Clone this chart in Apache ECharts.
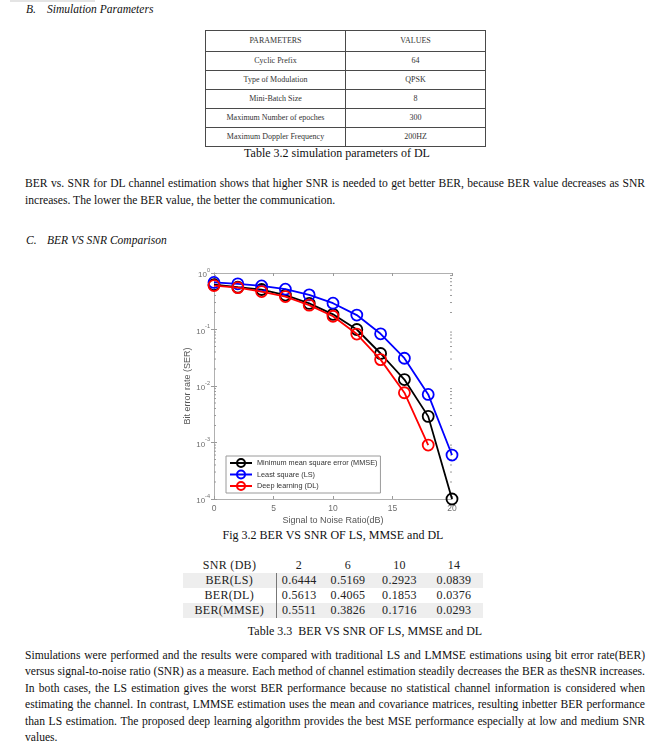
<!DOCTYPE html>
<html><head><meta charset="utf-8">
<script src="https://cdn.jsdelivr.net/npm/echarts@6/dist/echarts.min.js"></script>
<style>
body{margin:0;width:671px;height:749px;position:relative;background:#fff;font-family:"Liberation Serif","Times New Roman",serif;color:#111;overflow:hidden}
.abs{position:absolute;white-space:nowrap}
.it{font-style:italic;font-size:11.5px;line-height:16px}
.ln{position:absolute;left:25px;width:620px;font-size:11.6px;line-height:16px;white-space:nowrap}
.cap{position:absolute;font-size:12px;line-height:16px;white-space:nowrap;text-align:center}
#t1{position:absolute;left:205px;top:30px;width:280px;border-collapse:collapse;font-size:8px;color:#333;table-layout:fixed}
#t1 td{border:1px solid #4a4a4a;text-align:center;padding:0;line-height:10px}
#t2{position:absolute;left:183px;top:558px;width:300px;border-collapse:collapse;font-size:12px;color:#222;table-layout:fixed}
#t2 td{text-align:center;padding:0;height:15px;line-height:15px;letter-spacing:0.3px}
#t2 tr.g td{background:#eeeeee}
#t2 td.l{border-right:1px solid #777}
#chart{position:absolute;left:0;top:0;width:671px;height:749px;z-index:2}
</style></head>
<body>
<div class="abs" style="left:10px;top:0;width:85px;height:2px;background:#e4e4e4"></div>
<div class="abs it" style="left:26px;top:1px">B.</div>
<div class="abs it" style="left:47px;top:1px">Simulation Parameters</div>
<table id="t1"><colgroup><col style="width:140px"><col style="width:140px"></colgroup><tbody id="t1b"></tbody></table>
<div class="cap" style="left:187px;width:300px;top:145px">Table 3.2 simulation parameters of DL</div>
<div id="p1"></div>
<div class="abs it" style="left:26px;top:232px">C.</div>
<div class="abs it" style="left:47px;top:232px">BER VS SNR Comparison</div>
<div class="cap" style="left:183px;width:300px;top:527px">Fig 3.2 BER VS SNR OF LS, MMSE and DL</div>
<table id="t2"><colgroup><col style="width:93px"><col style="width:46px"><col style="width:52px"><col style="width:51px"><col style="width:58px"></colgroup><tbody id="t2b"></tbody></table>
<div class="cap" style="left:215px;width:300px;top:623px">Table 3.3&nbsp; BER VS SNR OF LS, MMSE and DL</div>
<div id="p2"></div>
<div id="chart"></div>
<script>
// ---- data ----
const paramNames = ['Cyclic Prefix', 'Type of Modulation', 'Mini-Batch Size', 'Maximum Number of epoches', 'Maximum Doppler Frequency'];
const paramValues = ['64', 'QPSK', '8', '300', '200HZ'];
const tableSnr = [2, 6, 10, 14];
const tableLS = ['0.6444', '0.5169', '0.2923', '0.0839'];
const tableDL = ['0.5613', '0.4065', '0.1853', '0.0376'];
const tableMMSE = ['0.5511', '0.3826', '0.1716', '0.0293'];

const snr = [0, 2, 4, 6, 8, 10, 12, 14, 16, 18, 20];
const berMMSE = [0.62, 0.5613, 0.51, 0.4065, 0.29, 0.1853, 0.10, 0.0376, 0.013, 0.0029, 0.0001];
const berLS = [0.68, 0.6444, 0.59, 0.5169, 0.41, 0.2923, 0.18, 0.0839, 0.031, 0.0071, 0.0006];
const berDL = [0.60, 0.5511, 0.47, 0.3826, 0.27, 0.1716, 0.083, 0.0293, 0.0076, 0.0009];
const seriesNames = ['Minimum mean square error (MMSE)', 'Least square (LS)', 'Deep learning (DL)'];
const yMinorTicks = [0.0002, 0.0003, 0.0004, 0.0005, 0.0006, 0.0007, 0.0008, 0.0009,
  0.002, 0.003, 0.004, 0.005, 0.006, 0.007, 0.008, 0.009,
  0.02, 0.03, 0.04, 0.05, 0.06, 0.07, 0.08, 0.09,
  0.2, 0.3, 0.4, 0.5, 0.6, 0.7, 0.8, 0.9];

const para1 = [
  'BER vs. SNR for DL channel estimation shows that higher SNR is needed to get better BER, because BER value decreases as SNR',
  'increases. The lower the BER value, the better the communication.'
];
const para2 = [
  'Simulations were performed and the results were compared with traditional LS and LMMSE estimations using bit error rate(BER)',
  'versus signal-to-noise ratio (SNR) as a measure. Each method of channel estimation steadily decreases the BER as theSNR increases.',
  'In both cases, the LS estimation gives the worst BER performance because no statistical channel information is considered when',
  'estimating the channel. In contrast, LMMSE estimation uses the mean and covariance matrices, resulting inbetter BER performance',
  'than LS estimation. The proposed deep learning algorithm provides the best MSE performance especially at low and medium SNR',
  'values.'
];

// ---- tables ----
const t1b = document.getElementById('t1b');
function addRow1(a, b, h) {
  const tr = document.createElement('tr'); tr.style.height = h + 'px';
  [a, b].forEach(t => { const td = document.createElement('td'); td.textContent = t; tr.appendChild(td); });
  t1b.appendChild(tr);
}
addRow1('PARAMETERS', 'VALUES', 21);
paramNames.forEach((n, i) => addRow1(n, paramValues[i], 19));

const t2b = document.getElementById('t2b');
function addRow2(label, vals, cls) {
  const tr = document.createElement('tr'); if (cls) tr.className = cls;
  const td0 = document.createElement('td'); td0.textContent = label; if (cls !== 'h') td0.className = 'l'; tr.appendChild(td0);
  vals.forEach(v => { const td = document.createElement('td'); td.textContent = v; tr.appendChild(td); });
  t2b.appendChild(tr);
}
addRow2('SNR (DB)', tableSnr.map(String), 'h');
addRow2('BER(LS)', tableLS, 'g');
addRow2('BER(DL)', tableDL, '');
addRow2('BER(MMSE)', tableMMSE, 'g');

// ---- justified paragraphs ----
function para(id, lines, top, step) {
  const host = document.getElementById(id);
  lines.forEach((t, i) => {
    const d = document.createElement('div'); d.className = 'ln'; d.style.top = (top + i * step) + 'px';
    const s = document.createElement('span'); s.textContent = t; d.appendChild(s); host.appendChild(d);
    if (i < lines.length - 1) {
      const w = s.getBoundingClientRect().width;
      const n = (t.match(/ /g) || []).length;
      if (n) s.style.wordSpacing = ((620 - w) / n) + 'px';
    }
  });
}
para('p1', para1, 176, 16.5);
para('p2', para2, 648, 16.4);

// ---- chart ----
const chart = echarts.init(document.getElementById('chart'), null, { renderer: 'canvas' });
const axisCol = '#b0b0b0', tickCol = '#9a9a9a', labCol = '#6e6e6e';
const colors = ['#000000', '#0000ff', '#ff0000'];
const datasets = [berMMSE, berLS, berDL];
function mkSeries(i) {
  return {
    name: seriesNames[i], type: 'line', z: 3 + i,
    data: datasets[i].map((v, k) => [snr[k], v]),
    symbol: 'circle', symbolSize: 11,
    lineStyle: { color: colors[i], width: 1.8 },
    itemStyle: { color: 'rgba(255,255,255,0)', borderColor: colors[i], borderWidth: 1.8 },
    emphasis: { disabled: true }
  };
}
const xCommon = {
  type: 'value', min: 0, max: 20, interval: 5,
  axisLine: { lineStyle: { color: axisCol, width: 1 } },
  axisTick: { inside: true, length: 3, lineStyle: { color: tickCol } },
  splitLine: { show: false }
};
const yCommon = {
  type: 'log', logBase: 10, min: 0.0001, max: 1, splitNumber: 4,
  axisLine: { show: true, lineStyle: { color: axisCol, width: 1 } },
  axisTick: { show: true, inside: true, length: 3, lineStyle: { color: tickCol } },
  splitLine: { show: false }
};
chart.setOption({
  animation: false,
  grid: { left: 214, top: 273, width: 238, height: 226 },
  legend: {
    left: 226, top: 456, orient: 'vertical',
    itemWidth: 22, itemHeight: 10, itemGap: 1.5,
    padding: [2, 3, 2, 3],
    borderColor: '#9a9a9a', borderWidth: 1, backgroundColor: '#fff',
    textStyle: { fontSize: 7.3, color: '#333', fontFamily: 'Liberation Sans' },
    data: seriesNames
  },
  xAxis: [
    Object.assign({}, xCommon, {
      position: 'bottom',
      axisLabel: { color: labCol, fontSize: 8.5, margin: 5, fontFamily: 'Liberation Sans' },
      name: 'Signal to Noise Ratio(dB)', nameLocation: 'middle', nameGap: 17,
      nameTextStyle: { color: '#555', fontSize: 9, fontFamily: 'Liberation Sans' }
    }),
    Object.assign({}, xCommon, { position: 'top', axisLabel: { show: false } })
  ],
  yAxis: [
    Object.assign({}, yCommon, {
      position: 'left',
      axisLabel: {
        margin: 4, color: labCol, fontFamily: 'Liberation Sans',
        formatter: v => '{b|10}{s|' + Math.round(Math.log10(v)) + '}',
        rich: {
          b: { fontSize: 8, color: labCol, fontFamily: 'Liberation Sans', lineHeight: 12, verticalAlign: 'bottom' },
          s: { fontSize: 5.5, color: labCol, fontFamily: 'Liberation Sans', lineHeight: 6, verticalAlign: 'top' }
        }
      },
      name: 'Bit error rate (SER)', nameLocation: 'middle', nameGap: 21, nameRotate: 90,
      nameTextStyle: { color: '#555', fontSize: 9, fontFamily: 'Liberation Sans' }
    }),
    Object.assign({}, yCommon, { position: 'right', axisLabel: { show: false } })
  ],
  series: [
    {
      type: 'custom', silent: true, z: 1,
      data: yMinorTicks.map(v => [0, v]),
      renderItem: (params, api) => {
        const v = api.value(1);
        const l = api.coord([0, v]), r = api.coord([20, v]);
        return {
          type: 'group', children: [
            { type: 'line', shape: { x1: l[0], y1: l[1], x2: l[0] + 2, y2: l[1] }, style: { stroke: tickCol, lineWidth: 1 } },
            { type: 'line', shape: { x1: r[0] - 2, y1: r[1], x2: r[0], y2: r[1] }, style: { stroke: tickCol, lineWidth: 1 } }
          ]
        };
      }
    },
    mkSeries(0), mkSeries(1), mkSeries(2)
  ]
});
</script>
</body></html>
